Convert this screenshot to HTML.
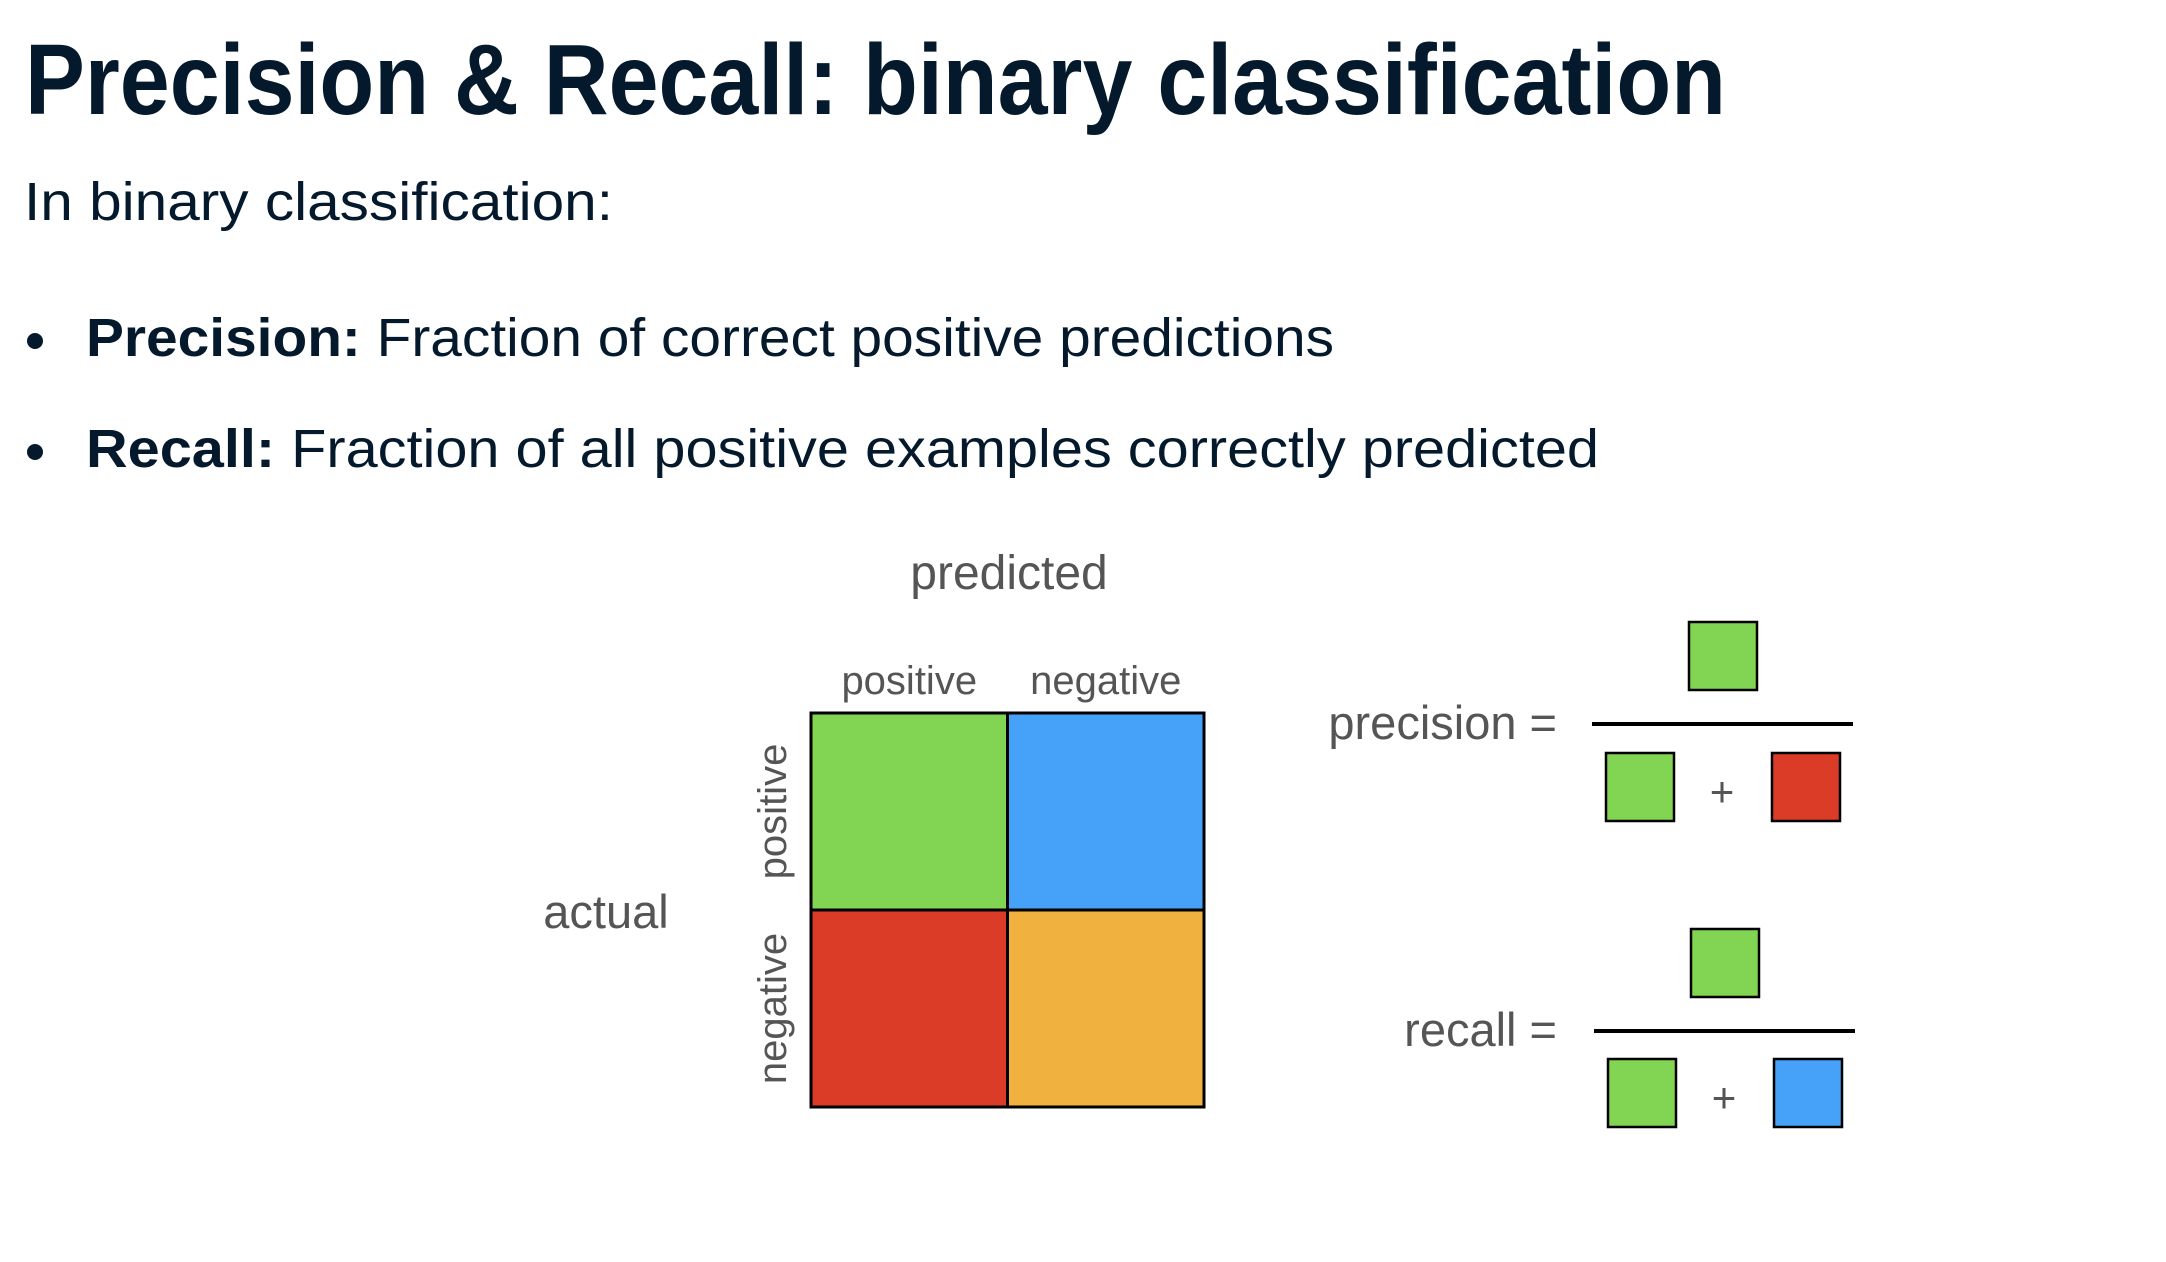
<!DOCTYPE html>
<html><head><meta charset="utf-8"><style>
html,body{margin:0;padding:0;background:#fff;}
svg{display:block;}
.t{font-family:"Liberation Sans",sans-serif;}
</style></head><body>
<svg id="s" width="2166" height="1262" viewBox="0 0 2166 1262" xmlns="http://www.w3.org/2000/svg">
<text class="t" x="25" y="114" font-size="100" font-weight="bold" fill="#05192d" textLength="1701" lengthAdjust="spacingAndGlyphs">Precision &amp; Recall: binary classification</text>
<text class="t" x="24" y="220" font-size="54" fill="#05192d" textLength="589" lengthAdjust="spacingAndGlyphs">In binary classification:</text>
<circle cx="35" cy="341" r="8" fill="#05192d"/>
<text class="t" x="86" y="356" font-size="54" fill="#05192d" textLength="1248" lengthAdjust="spacingAndGlyphs"><tspan font-weight="bold">Precision:</tspan> Fraction of correct positive predictions</text>
<circle cx="35" cy="452" r="8" fill="#05192d"/>
<text class="t" x="86" y="467" font-size="54" fill="#05192d" textLength="1513" lengthAdjust="spacingAndGlyphs"><tspan font-weight="bold">Recall:</tspan> Fraction of all positive examples correctly predicted</text>
<g id="matrix"></g>
<g id="formulas"></g>
</svg>
<script>
const predictedLabels = ["positive", "negative"];
const actualLabels = ["positive", "negative"];
const cellColors = [["#82d552", "#46a1f8"], ["#da3c28", "#f0b13e"]];
const cellNames = [["true-positive", "false-negative"], ["false-positive", "true-negative"]];

const NS = "http://www.w3.org/2000/svg";
const mx = 811, my = 713, cw = 196.5, ch = 197;
function xs(i){ return mx + i * cw; }
function ys(j){ return my + j * ch; }
function mk(tag, attrs, parent){
  const e = document.createElementNS(NS, tag);
  for (const k in attrs) e.setAttribute(k, attrs[k]);
  parent.appendChild(e); return e;
}
const g = document.getElementById("matrix");
for (let j = 0; j < actualLabels.length; j++) {
  for (let i = 0; i < predictedLabels.length; i++) {
    const r = mk("rect", {x: xs(i), y: ys(j), width: cw, height: ch, fill: cellColors[j][i], stroke: "#000", "stroke-width": 3}, g);
    
    
  }
}
predictedLabels.forEach((l, i) => {
  const t = mk("text", {x: xs(i) + cw / 2, y: 694, "text-anchor": "middle", "font-size": 40, fill: "#555", class: "t"}, g);
  t.textContent = l;
  
  
});
actualLabels.forEach((l, j) => {
  const cx = 786, cy = ys(j) + ch / 2;
  const t = mk("text", {x: cx, y: cy, "text-anchor": "middle", "font-size": 40, fill: "#555", class: "t", transform: "rotate(-90 " + cx + " " + cy + ")"}, g);
  t.textContent = l;
  
  
});
const pt = mk("text", {x: 1009, y: 589, "text-anchor": "middle", "font-size": 48, fill: "#555", class: "t"}, g);
pt.textContent = "predicted";


const at = mk("text", {x: 606, y: 928, "text-anchor": "middle", "font-size": 47, fill: "#555", class: "t"}, g);
at.textContent = "actual";



const f = document.getElementById("formulas");
function formula(name, label, baseY, lineY, topY, botY, dx, secondColor){
  const t = mk("text", {x: 1557, y: baseY, "text-anchor": "end", "font-size": 47, fill: "#555", class: "t"}, f);
  t.textContent = label + " =";
  
  
  const ln = mk("line", {x1: 1592 + dx, x2: 1853 + dx, y1: lineY, y2: lineY, stroke: "#000", "stroke-width": 4}, f);
  
  
  const b1 = mk("rect", {x: 1689 + dx, y: topY, width: 68, height: 68, fill: cellColors[0][0], stroke: "#000", "stroke-width": 2.5}, f);
  
  
  const b2 = mk("rect", {x: 1606 + dx, y: botY, width: 68, height: 68, fill: cellColors[0][0], stroke: "#000", "stroke-width": 2.5}, f);
  
  
  const p = mk("text", {x: 1722 + dx, y: botY + 53, "text-anchor": "middle", "font-size": 42, fill: "#555", class: "t"}, f);
  p.textContent = "+";
  
  
  const b3 = mk("rect", {x: 1772 + dx, y: botY, width: 68, height: 68, fill: secondColor, stroke: "#000", "stroke-width": 2.5}, f);
  
  
}
formula("precision", "precision", 739, 724, 622, 753, 0, cellColors[1][0]);
formula("recall", "recall", 1046, 1031, 929, 1059, 2, cellColors[0][1]);
</script>
</body></html>
